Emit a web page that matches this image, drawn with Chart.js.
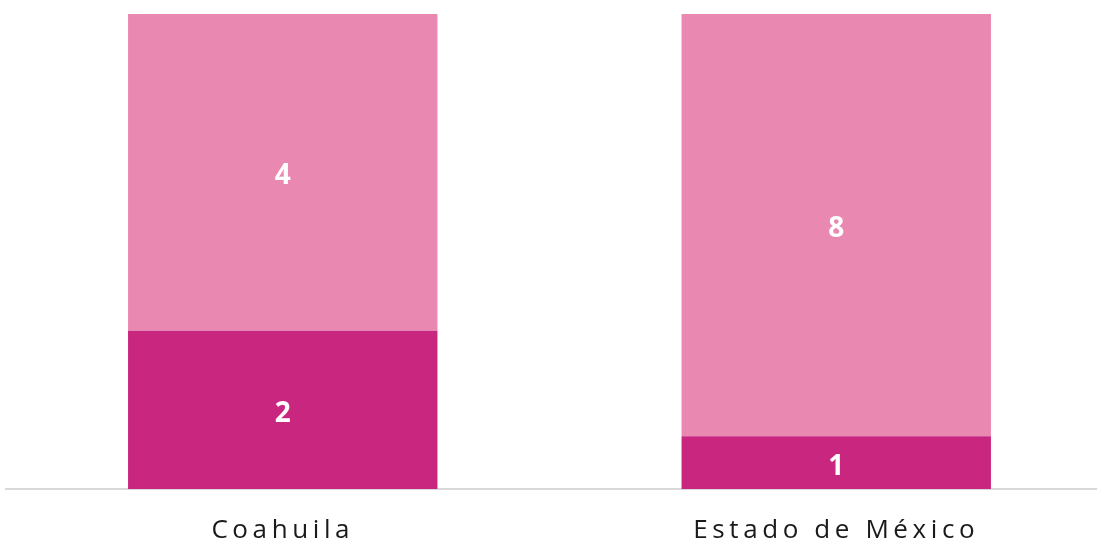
<!DOCTYPE html>
<html>
<head>
<meta charset="utf-8">
<script src="https://cdn.jsdelivr.net/npm/chart.js@4/dist/chart.umd.min.js"></script>
<style>
  html, body { margin: 0; padding: 0; background: #fff; overflow: hidden; }
  #wrap { position: relative; width: 1113px; height: 542px; }
</style>
</head>
<body>
<div id="wrap"><canvas id="chart"></canvas></div>
<script>
  // Datos: conteos por estado (barras 100% apiladas).
  const categorias = ["Coahuila", "Estado de México"];
  const serieOscura = [2, 1];
  const serieClara = [4, 8];
  const totales = categorias.map((_, i) => serieOscura[i] + serieClara[i]);
  const pct = (arr) => arr.map((v, i) => v / totales[i] * 100);

  const OSCURO = "#c8267f";
  const CLARO = "#e988b1";

  // Etiquetas blancas dentro de cada segmento (valor real, no porcentaje).
  const etiquetas = {
    id: "etiquetas",
    beforeDraw(chart) { chart.ctx.letterSpacing = "4.6px"; },
    afterDatasetsDraw(chart) {
      const ctx = chart.ctx;
      ctx.save();
      ctx.letterSpacing = "0px";
      ctx.font = "bold 28px 'Open Sans', sans-serif";
      ctx.fillStyle = "#ffffff";
      ctx.textAlign = "center";
      ctx.textBaseline = "middle";
      chart.data.datasets.forEach((ds, di) => {
        chart.getDatasetMeta(di).data.forEach((bar, i) => {
          const y = (bar.y + bar.base) / 2 + 4;
          ctx.fillText(String(ds.raw[i]), bar.x, y);
        });
      });
      ctx.restore();
    },
    afterDraw(chart) { chart.ctx.letterSpacing = "0px"; },
  };

  new Chart(document.getElementById("chart"), {
    type: "bar",
    data: {
      labels: categorias,
      datasets: [
        { label: "A", data: pct(serieOscura), raw: serieOscura, backgroundColor: OSCURO,
          barPercentage: 1, categoryPercentage: 0.559 },
        { label: "B", data: pct(serieClara), raw: serieClara, backgroundColor: CLARO,
          barPercentage: 1, categoryPercentage: 0.559 },
      ],
    },
    options: {
      responsive: true, maintainAspectRatio: false, animation: false,
      layout: { padding: { top: 14, left: 6, right: 0, bottom: 0 } },
      plugins: { legend: { display: false }, tooltip: { enabled: false } },
      scales: {
        x: {
          stacked: true,
          grid: { display: false, drawTicks: false },
          border: { display: true, color: "#d9d9d9", width: 2 },
          ticks: { color: "#1a1a1a", padding: 26, font: { family: "'Open Sans', sans-serif", size: 26 } },
          afterFit: (s) => { s.height = 53; },
        },
        y: { stacked: true, display: false, min: 0, max: 100 },
      },
    },
    plugins: [etiquetas],
  });
</script>
</body>
</html>
